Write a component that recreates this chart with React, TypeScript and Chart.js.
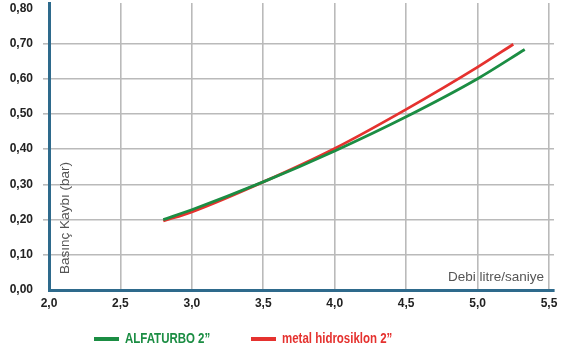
import React, { useEffect, useRef } from "react";
import { Chart, registerables } from "chart.js";

Chart.register(...registerables);

const xTicks = [2.0, 2.5, 3.0, 3.5, 4.0, 4.5, 5.0, 5.5];
const yTicks = [0, 0.1, 0.2, 0.3, 0.4, 0.5, 0.6, 0.7, 0.8];

const seriesNames = ["ALFATURBO 2\u201D", "metal hidrosiklon 2\u201D"];
const greenX = [2.8, 3.0, 3.5, 4.0, 4.5, 5.0, 5.33];
const greenY = [0.2, 0.228, 0.307, 0.395, 0.492, 0.6, 0.683];
const redX = [2.8, 3.0, 3.5, 4.0, 4.5, 5.0, 5.25];
const redY = [0.196, 0.222, 0.307, 0.402, 0.513, 0.633, 0.698];

const xTitle = "Debi litre/saniye";
const yTitle = "Basınç Kaybı (bar)";

const GREEN = "#1b8d43";
const RED = "#e5322f";
const AXIS = "#2e6a8c";
const GRID = "#bababa";
const TICK_FONT = { family: '"Liberation Sans", Arial, sans-serif', size: 12, weight: "bold" as const };

const overlayPlugin = {
  id: "overlay",
  afterDraw(chart: any) {
    const { ctx, chartArea } = chart;
    ctx.save();
    // axis titles inside the plot
    ctx.fillStyle = "#555555";
    ctx.font = '13.5px "Liberation Sans", Arial, sans-serif';
    ctx.textAlign = "right";
    ctx.textBaseline = "middle";
    ctx.fillText(xTitle, chartArea.right - 10, chartArea.bottom - 13);
    ctx.save();
    ctx.translate(chartArea.left + 16, chartArea.bottom - 72);
    ctx.rotate(-Math.PI / 2);
    ctx.textAlign = "center";
    ctx.fillText(yTitle, 0, 0);
    ctx.restore();
    // legend
    ctx.font = 'bold 14px "Liberation Sans", Arial, sans-serif';
    ctx.textAlign = "left";
    ctx.textBaseline = "middle";
    chart.data.datasets.forEach((ds: any, i: number) => {
      const x0 = 94 + i * 157;
      const y0 = 339;
      ctx.fillStyle = ds.borderColor;
      ctx.fillRect(x0, y0 - 2, 25, 4);
      ctx.save();
      ctx.translate(x0 + 31, y0);
      ctx.scale(0.82, 1);
      ctx.fillText(ds.label, 0, 0);
      ctx.restore();
    });
    ctx.restore();
  },
};

export default function App() {
  const ref = useRef<HTMLCanvasElement>(null);
  useEffect(() => {
    if (!ref.current) return;
    const chart = new Chart(ref.current, {
      type: "line",
      data: {
        datasets: [
          {
            label: seriesNames[0],
            data: greenX.map((x, i) => ({ x, y: greenY[i] })),
            borderColor: GREEN,
            backgroundColor: GREEN,
            borderWidth: 2.8,
            pointRadius: 0,
            cubicInterpolationMode: "monotone",
          },
          {
            label: seriesNames[1],
            data: redX.map((x, i) => ({ x, y: redY[i] })),
            borderColor: RED,
            backgroundColor: RED,
            borderWidth: 2.8,
            pointRadius: 0,
            cubicInterpolationMode: "monotone",
          },
        ],
      },
      options: {
        animation: false,
        responsive: true,
        maintainAspectRatio: false,
        layout: { padding: { top: 3, right: 14, bottom: 40, left: 0 } },
        plugins: { legend: { display: false }, tooltip: { enabled: false } },
        scales: {
          x: {
            type: "linear",
            min: 2,
            max: 5.535,
            afterBuildTicks: (s: any) => {
              s.ticks = xTicks.map((v) => ({ value: v }));
            },
            afterFit: (s: any) => {
              s.height = 20;
              s.paddingLeft = 0;
              s.paddingRight = 0;
            },
            grid: {
              color: (c: any) => (c.tick && c.tick.value === 2 ? "rgba(0,0,0,0)" : GRID),
              lineWidth: 1.6,
              drawTicks: false,
              tickLength: 0,
            },
            border: { color: AXIS, width: 3 },
            ticks: {
              font: TICK_FONT,
              color: "#222222",
              padding: 6,
              maxRotation: 0,
              autoSkip: false,
              callback: (v: any) => Number(v).toFixed(1).replace(".", ","),
            },
          },
          y: {
            type: "linear",
            min: 0,
            max: 0.815,
            afterBuildTicks: (s: any) => {
              s.ticks = yTicks.map((v) => ({ value: v }));
            },
            afterFit: (s: any) => {
              s.width = 49;
              s.paddingTop = 0;
              s.paddingBottom = 0;
            },
            grid: {
              color: (c: any) =>
                c.tick && (Math.abs(c.tick.value) < 1e-6 || Math.abs(c.tick.value - 0.8) < 1e-6)
                  ? "rgba(0,0,0,0)"
                  : GRID,
              lineWidth: 1.6,
              tickLength: 6,
            },
            border: { color: AXIS, width: 3 },
            ticks: {
              font: TICK_FONT,
              color: "#222222",
              padding: 10,
              autoSkip: false,
              callback: (v: any) => Number(v).toFixed(2).replace(".", ","),
            },
          },
        },
      },
      plugins: [overlayPlugin],
    });
    return () => chart.destroy();
  }, []);
  return (
    <div style={{ position: "fixed", left: 0, top: 0, width: 568, height: 350 }}>
      <canvas ref={ref} />
    </div>
  );
}
